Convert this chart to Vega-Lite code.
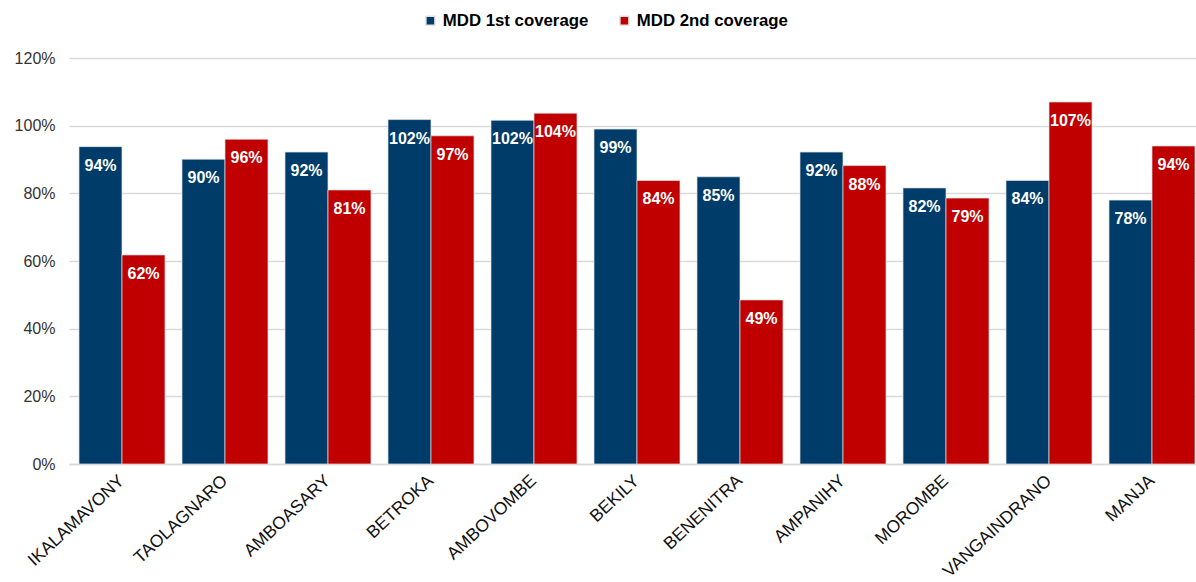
{
  "$schema": "https://vega.github.io/schema/vega-lite/v6.json",
  "autosize": {"type": "none"},
  "width": 1136,
  "height": 406,
  "padding": {"left": 69, "top": 58, "right": 0, "bottom": 118},
  "background": "white",
  "config": {
    "font": "Liberation Sans",
    "view": {"stroke": null}
  },
  "data": {
    "values": [
      {"district": "IKALAMAVONY", "series": "MDD 1st coverage", "coverage": 0.938},
      {"district": "IKALAMAVONY", "series": "MDD 2nd coverage", "coverage": 0.618},
      {"district": "TAOLAGNARO", "series": "MDD 1st coverage", "coverage": 0.901},
      {"district": "TAOLAGNARO", "series": "MDD 2nd coverage", "coverage": 0.96},
      {"district": "AMBOASARY", "series": "MDD 1st coverage", "coverage": 0.922},
      {"district": "AMBOASARY", "series": "MDD 2nd coverage", "coverage": 0.81},
      {"district": "BETROKA", "series": "MDD 1st coverage", "coverage": 1.018},
      {"district": "BETROKA", "series": "MDD 2nd coverage", "coverage": 0.97},
      {"district": "AMBOVOMBE", "series": "MDD 1st coverage", "coverage": 1.016},
      {"district": "AMBOVOMBE", "series": "MDD 2nd coverage", "coverage": 1.037},
      {"district": "BEKILY", "series": "MDD 1st coverage", "coverage": 0.99},
      {"district": "BEKILY", "series": "MDD 2nd coverage", "coverage": 0.838},
      {"district": "BENENITRA", "series": "MDD 1st coverage", "coverage": 0.849},
      {"district": "BENENITRA", "series": "MDD 2nd coverage", "coverage": 0.485},
      {"district": "AMPANIHY", "series": "MDD 1st coverage", "coverage": 0.922},
      {"district": "AMPANIHY", "series": "MDD 2nd coverage", "coverage": 0.882},
      {"district": "MOROMBE", "series": "MDD 1st coverage", "coverage": 0.816},
      {"district": "MOROMBE", "series": "MDD 2nd coverage", "coverage": 0.786},
      {"district": "VANGAINDRANO", "series": "MDD 1st coverage", "coverage": 0.838},
      {"district": "VANGAINDRANO", "series": "MDD 2nd coverage", "coverage": 1.07},
      {"district": "MANJA", "series": "MDD 1st coverage", "coverage": 0.78},
      {"district": "MANJA", "series": "MDD 2nd coverage", "coverage": 0.94}
    ]
  },
  "encoding": {
    "x": {
      "field": "district",
      "type": "nominal",
      "sort": null,
      "title": null,
      "scale": {"paddingInner": 0.165, "paddingOuter": 0.097},
      "axis": {
        "labelAngle": -43,
        "labelAlign": "right",
        "labelBaseline": "middle",
        "labelFontSize": 17.5,
        "labelColor": "#111111",
        "labelPadding": 14,
        "ticks": false,
        "domainColor": "#d9d9d9",
        "domainWidth": 1.5,
        "grid": false
      }
    },
    "xOffset": {"field": "series", "type": "nominal", "sort": ["MDD 1st coverage", "MDD 2nd coverage"]},
    "y": {
      "field": "coverage",
      "type": "quantitative",
      "title": null,
      "scale": {"domain": [0, 1.2], "nice": false},
      "axis": {
        "values": [0, 0.2, 0.4, 0.6, 0.8, 1.0, 1.2],
        "format": ".0%",
        "labelFontSize": 16,
        "labelColor": "#333333",
        "labelPadding": 14,
        "domain": false,
        "ticks": false,
        "gridColor": "#d9d9d9",
        "gridWidth": 1.5
      }
    }
  },
  "layer": [
    {
      "mark": {"type": "bar", "stroke": "#e3e3e3", "strokeWidth": 0.7},
      "encoding": {
        "color": {
          "field": "series",
          "type": "nominal",
          "scale": {"domain": ["MDD 1st coverage", "MDD 2nd coverage"], "range": ["#003c69", "#c00000"]},
          "legend": {
            "title": null,
            "orient": "none",
            "direction": "horizontal",
            "legendX": 353,
            "legendY": -46,
            "symbolType": "square",
            "symbolSize": 81,
            "symbolOffset": 0,
            "labelOffset": 4,
            "labelFontSize": 16.8,
            "labelFontWeight": "bold",
            "columnPadding": 27,
            "encode": {
              "labels": {
                "update": {
                  "fill": {"signal": "datum.value === 'MDD 1st coverage' ? '#003c69' : '#c00000'"}
                }
              }
            }
          }
        }
      }
    },
    {
      "mark": {"type": "text", "color": "white", "fontWeight": "bold", "fontSize": 16, "baseline": "middle", "dy": 19},
      "encoding": {
        "text": {"field": "coverage", "type": "quantitative", "format": ".0%"}
      }
    }
  ]
}
